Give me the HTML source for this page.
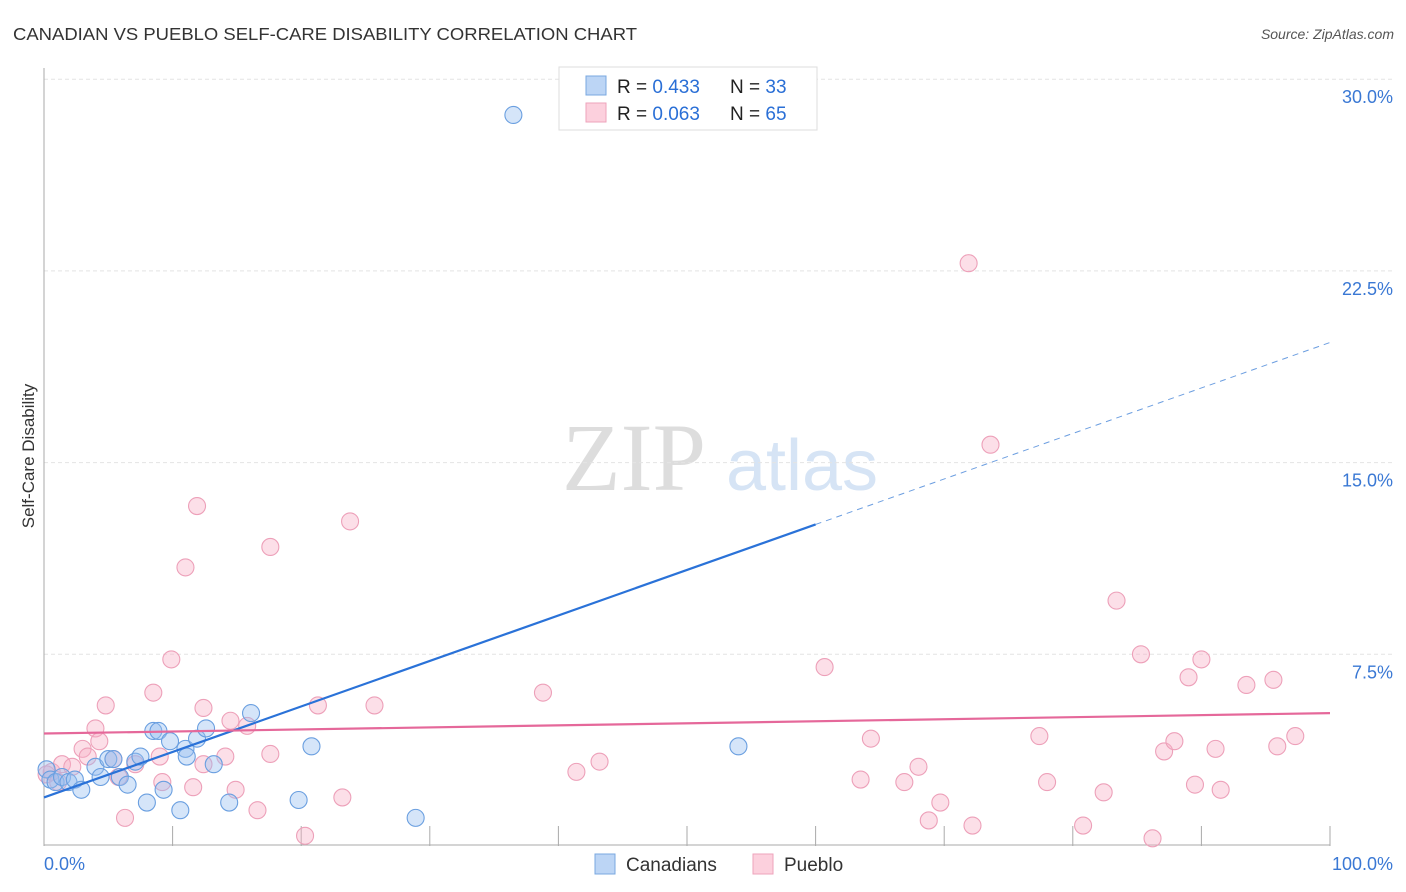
<!DOCTYPE html>
<html><head><meta charset="utf-8">
<style>
body{margin:0;background:#fff;font-family:"Liberation Sans",sans-serif;}
#wrap{position:relative;width:1406px;height:892px;overflow:hidden;}
</style></head>
<body>
<div id="wrap">
<svg id="svg" width="1406" height="892" xmlns="http://www.w3.org/2000/svg">
<text x="13" y="40" font-size="17.5" fill="#333" textLength="624" lengthAdjust="spacingAndGlyphs">CANADIAN VS PUEBLO SELF-CARE DISABILITY CORRELATION CHART</text>
<text x="1394" y="39" font-size="14" fill="#555" font-style="italic" text-anchor="end">Source: ZipAtlas.com</text>
<text x="634" y="490" font-size="96" fill="#ddd" font-family="Liberation Serif,serif" text-anchor="middle">ZIP</text>
<text x="802" y="490" font-size="72" fill="#d6e4f5" text-anchor="middle">atlas</text>
<text transform="translate(34,456) rotate(-90)" font-size="17" fill="#333" text-anchor="middle">Self-Care Disability</text>
<g id="grid"></g><g id="marks"></g>
<rect x="559" y="67" width="258" height="63" fill="#fff" stroke="#ddd"/>
<rect x="586" y="76" width="20" height="19" fill="#bcd5f5" stroke="#7aa8e0"/>
<rect x="586" y="103" width="20" height="19" fill="#fcd0dd" stroke="#eea3bb"/>
<text x="617" y="93" font-size="19" fill="#222">R = <tspan fill="#2a6fd6">0.433</tspan></text>
<text x="730" y="93" font-size="19" fill="#222">N = <tspan fill="#2a6fd6">33</tspan></text>
<text x="617" y="120" font-size="19" fill="#222">R = <tspan fill="#2a6fd6">0.063</tspan></text>
<text x="730" y="120" font-size="19" fill="#222">N = <tspan fill="#2a6fd6">65</tspan></text>
<rect x="595" y="854" width="20" height="20" fill="#bcd5f5" stroke="#7aa8e0"/>
<text x="626" y="871" font-size="19" fill="#333">Canadians</text>
<rect x="753" y="854" width="20" height="20" fill="#fcd0dd" stroke="#eea3bb"/>
<text x="784" y="871" font-size="19" fill="#333">Pueblo</text>
</svg>
</div>
<script>
const yTicks=[7.5,15,22.5,30];
const yTickLabels=["7.5%","15.0%","22.5%","30.0%"];
const xTickLabels=["0.0%","100.0%"];
const blueX=[0.2,0.5,0.9,1.4,1.9,2.4,2.9,4.0,4.4,5.0,5.4,5.9,6.5,7.1,7.5,8.0,8.5,8.9,9.3,9.8,10.6,11.0,11.1,11.9,12.6,13.2,14.4,16.1,19.8,20.8,28.9,36.5,54.0];
const blueY=[3.0,2.6,2.5,2.7,2.5,2.6,2.2,3.1,2.7,3.4,3.4,2.7,2.4,3.3,3.5,1.7,4.5,4.5,2.2,4.1,1.4,3.8,3.5,4.2,4.6,3.2,1.7,5.2,1.8,3.9,1.1,28.6,3.9];
const pinkX=[0.2,0.6,1.1,1.4,2.2,3.0,3.4,4.0,4.3,4.8,5.4,5.8,6.3,7.1,8.5,9.0,9.2,9.9,11.0,11.6,11.9,12.4,12.4,14.1,14.5,14.9,15.8,16.6,17.6,17.6,20.3,21.3,23.2,23.8,25.7,38.8,41.4,43.2,60.7,63.5,64.3,66.9,68.0,68.8,69.7,71.9,72.2,73.6,77.4,78.0,80.8,82.4,83.4,85.3,86.2,87.1,87.9,89.0,89.5,90.0,91.1,91.5,93.5,95.6,95.9,97.3];
const pinkY=[2.8,2.9,2.5,3.2,3.1,3.8,3.5,4.6,4.1,5.5,3.4,2.7,1.1,3.2,6.0,3.5,2.5,7.3,10.9,2.3,13.3,5.4,3.2,3.5,4.9,2.2,4.7,1.4,11.7,3.6,0.4,5.5,1.9,12.7,5.5,6.0,2.9,3.3,7.0,2.6,4.2,2.5,3.1,1.0,1.7,22.8,0.8,15.7,4.3,2.5,0.8,2.1,9.6,7.5,0.3,3.7,4.1,6.6,2.4,7.3,3.8,2.2,6.3,6.5,3.9,4.3];
const blueTrend=[1.9,19.7]; const blueSolidEnd=60;
const pinkTrend=[4.4,5.2];

const X0=44,X1=1330,Y0=846,PX=25.56;
const sx=v=>X0+(X1-X0)*v/100, sy=v=>Y0-v*PX;
const NS="http://www.w3.org/2000/svg";
function mk(t,a,p){const e=document.createElementNS(NS,t);for(const k in a)e.setAttribute(k,a[k]);p.appendChild(e);return e;}
const grid=document.getElementById('grid'),marks=document.getElementById('marks');
yTicks.forEach((t,i)=>{
 const g=mk('line',{x1:X0,x2:1394,y1:sy(t),y2:sy(t),stroke:'#e4e4e4','stroke-dasharray':'4,3'},grid);
 
 
 const l=mk('text',{x:1393,y:sy(t)+24,'font-size':18,fill:'#3a78d4','text-anchor':'end'},grid);
 l.textContent=yTickLabels[i];
 
 
});
const ax=mk('line',{x1:X0,x2:X0,y1:68,y2:Y0,stroke:'#aaa'},grid);


const bx=mk('line',{x1:X0,x2:X1,y1:Y0-1,y2:Y0-1,stroke:'#aaa'},grid);


for(let i=1;i<=10;i++){const t=mk('line',{x1:sx(i*10),x2:sx(i*10),y1:826,y2:Y0,stroke:'#aaa'},grid);
 
 }
[[44,'start'],[1393,'end']].forEach((p,i)=>{const l=mk('text',{x:p[0],y:870,'font-size':18,fill:'#3a78d4','text-anchor':p[1]},grid);
 l.textContent=xTickLabels[i];
 
 });
function dots(xs,ys,fill,stroke,name){xs.forEach((x,i)=>{const c=mk('circle',{cx:sx(x),cy:sy(ys[i]),r:8.5,fill:fill,stroke:stroke,'stroke-width':1.1},marks);
 
 });}
dots(pinkX,pinkY,'rgba(248,175,198,0.4)','#eda0b9','pueblo-point');
dots(blueX,blueY,'rgba(150,190,240,0.4)','#6a9fe0','canadians-point');
const bt=v=>blueTrend[0]+(blueTrend[1]-blueTrend[0])*v/100;
const l1=mk('line',{x1:sx(0),y1:sy(bt(0)),x2:sx(blueSolidEnd),y2:sy(bt(blueSolidEnd)),stroke:'#2a72d8','stroke-width':2.2},marks);


const l2=mk('line',{x1:sx(blueSolidEnd),y1:sy(bt(blueSolidEnd)),x2:sx(100),y2:sy(bt(100)),stroke:'#6c9ee0','stroke-width':1,'stroke-dasharray':'6,5'},marks);


const l3=mk('line',{x1:sx(0),y1:sy(pinkTrend[0]),x2:sx(100),y2:sy(pinkTrend[1]),stroke:'#e5689a','stroke-width':2.2},marks);


</script>
</body></html>
